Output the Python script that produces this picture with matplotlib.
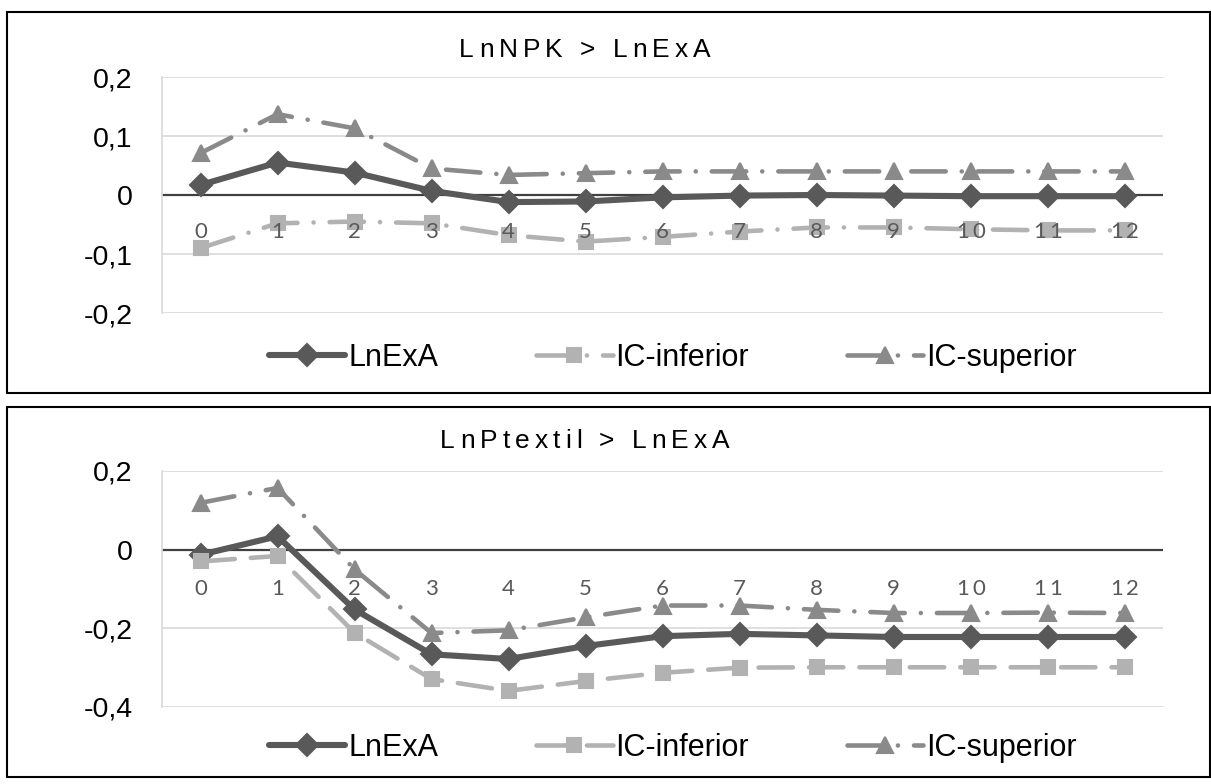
import matplotlib
matplotlib.use("Agg")
import matplotlib.pyplot as plt
from matplotlib.font_manager import FontProperties
from matplotlib.lines import Line2D
from matplotlib.patches import Rectangle

# datos
lags = list(range(13))

npk_lnexa = [0.017, 0.055, 0.038, 0.007, -0.012, -0.011, -0.004, -0.001, 0.000, -0.001, -0.002, -0.002, -0.002]
npk_inf = [-0.090, -0.048, -0.045, -0.048, -0.068, -0.079, -0.071, -0.062, -0.055, -0.055, -0.058, -0.060, -0.060]
npk_sup = [0.071, 0.137, 0.113, 0.045, 0.034, 0.037, 0.040, 0.040, 0.040, 0.040, 0.040, 0.040, 0.040]

tex_lnexa = [-0.013, 0.034, -0.152, -0.266, -0.278, -0.245, -0.220, -0.214, -0.218, -0.222, -0.222, -0.222, -0.222]
tex_inf = [-0.030, -0.016, -0.211, -0.329, -0.359, -0.334, -0.313, -0.300, -0.299, -0.299, -0.299, -0.299, -0.299]
tex_sup = [0.119, 0.157, -0.050, -0.212, -0.205, -0.172, -0.142, -0.142, -0.153, -0.161, -0.161, -0.160, -0.161]

titles = ["LnNPK > LnExA", "LnPtextil > LnExA"]
series_names = ["LnExA", "IC-inferior", "IC-superior"]
yticks_top = [-0.2, -0.1, 0, 0.1, 0.2]
yticks_bot = [-0.4, -0.2, 0, 0.2]

W, H = 1211, 784
C_MAIN = "#595959"
C_INF = "#b2b2b2"
C_SUP = "#8a8a8a"
GRID = "#d9d9d9"

LDASHDOT = (7.5, 3.5, 0.01, 3.5)
LDASH = (7.5, 3.5)

fig = plt.figure(figsize=(W / 100, H / 100), dpi=100)
renderer = fig.canvas.get_renderer()


def px(x, y):
    # pixel (desde arriba-izquierda) -> fraccion de figura
    return x / W, 1 - y / H


def spaced_text(x_c, y_c, s, size, spacing, family, color):
    # texto con espaciado entre letras, centrado en (x_c, y_c) en pixeles
    prop = FontProperties(family=family, size=size)
    total = renderer.get_text_width_height_descent(s, prop, ismath=False)[0] + spacing * (len(s) - 1)
    x0 = x_c - total / 2
    for i, ch in enumerate(s):
        if ch == " ":
            continue
        w = renderer.get_text_width_height_descent(s[:i + 1], prop, ismath=False)[0]
        xr = x0 + w + i * spacing
        fx, fy = px(xr, y_c)
        fig.text(fx, fy, ch, fontproperties=prop, color=color, ha="right", va="center")


def make_panel(rect_px, data, styles, yticks, title, title_y, legend_y, label_off):
    x0, y0, x1, y1 = rect_px
    ax = fig.add_axes([x0 / W, 1 - y1 / H, (x1 - x0) / W, (y1 - y0) / H])
    ax.set_xlim(-0.5, 12.5)
    ax.set_ylim(yticks[0], yticks[-1])
    ax.set_yticks(yticks)
    ax.set_yticklabels([("%g" % t).replace(".", ",") for t in yticks],
                       fontsize=20.5, family="Liberation Sans", color="black")
    ax.tick_params(axis="y", length=0, pad=21)
    ax.set_xticks([])
    for sp in ["top", "right", "bottom"]:
        ax.spines[sp].set_visible(False)
    ax.spines["left"].set_color(GRID)
    ax.spines["left"].set_linewidth(1.2)
    for t in yticks:
        if t != 0:
            ax.axhline(t, color=GRID, lw=1.2, zorder=0)
    ax.axhline(0, color="#404040", lw=1.6, zorder=1)

    handles = []
    for vals, (name, color, lw, mk, ms, dashes) in zip(data, styles):
        kw = dict(color=color, lw=lw, marker=mk, ms=ms, mec=color, mfc=color, mew=1.5,
                  solid_capstyle="round", dash_capstyle="round", solid_joinstyle="round")
        line, = ax.plot(lags, vals, zorder=3, **kw)
        if dashes:
            line.set_dashes(dashes)
        h = Line2D([0], [0], **kw)
        if dashes:
            h.set_dashes(dashes)
        handles.append(h)

    # etiquetas del eje x junto a la linea de cero
    fig.canvas.draw()
    for i in lags:
        xd, yd = ax.transData.transform((i, 0))
        spaced_text(xd, H - yd + label_off, str(i), 16, 3, "Lato", "#595959")

    spaced_text(585, title_y, title, 19, 5, "Liberation Sans", "black")

    fig.legend(handles, series_names, loc="center", bbox_to_anchor=px(673, legend_y),
               ncol=3, frameon=False, handlelength=2.5, handletextpad=0.1,
               columnspacing=3.2, prop=FontProperties(family="Liberation Sans", size=22))
    return ax


top_styles = [("LnExA", C_MAIN, 4.4, "D", 11, None),
              ("IC-inferior", C_INF, 3.3, "s", 10.5, LDASHDOT),
              ("IC-superior", C_SUP, 3.3, "^", 11, LDASHDOT)]
bot_styles = [("LnExA", C_MAIN, 4.4, "D", 11, None),
              ("IC-inferior", C_INF, 3.3, "s", 10.5, LDASH),
              ("IC-superior", C_SUP, 3.3, "^", 11, LDASHDOT)]

make_panel((162, 77, 1163, 313), [npk_lnexa, npk_inf, npk_sup], top_styles,
           yticks_top, titles[0], 50, 358, 37)
make_panel((162, 471, 1163, 707), [tex_lnexa, tex_inf, tex_sup], bot_styles,
           yticks_bot, titles[1], 441, 748, 39)

# marcos de cada grafico
for (x0, y0, x1, y1) in [(7, 12, 1210, 393), (7, 407, 1210, 777)]:
    fig.patches.append(Rectangle(px(x0, y1), (x1 - x0) / W, (y1 - y0) / H,
                                 transform=fig.transFigure, fill=False,
                                 edgecolor="black", lw=1.5))

fig.savefig("out.png", dpi=100)
